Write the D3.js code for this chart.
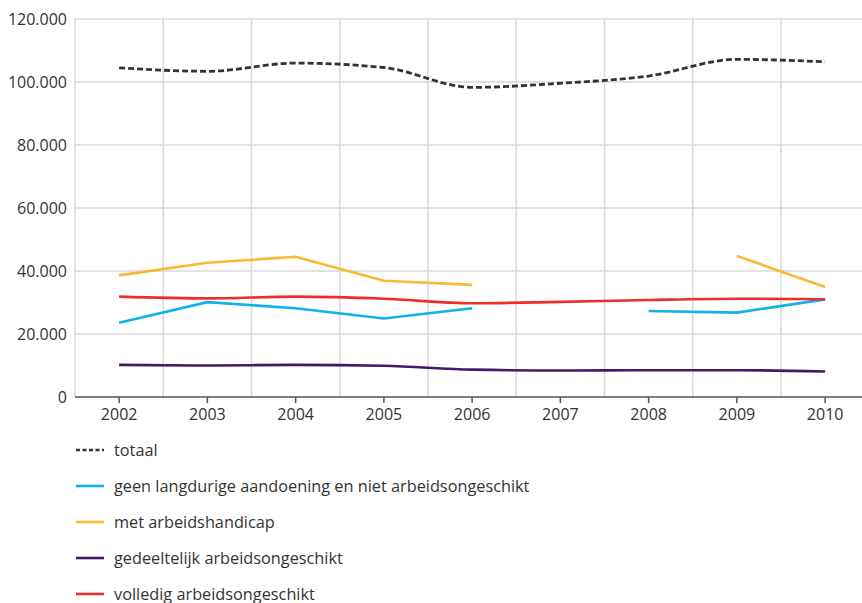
<!DOCTYPE html>
<html>
<head>
<meta charset="utf-8">
<script src="https://cdn.jsdelivr.net/npm/d3@7"></script>
<style>
    body { margin: 0; background: #ffffff; }
    svg text { font-family: "Open Sans", Lato, sans-serif; fill: #333333; }
</style>
</head>
<body>
<div id="chart"></div>
<script>
let width = 862;
let height = 603;

// data
let years = [2002, 2003, 2004, 2005, 2006, 2007, 2008, 2009, 2010];
let totaal = [104500, 103400, 106000, 104600, 98300, 99600, 101900, 107200, 106400];
let geenLangdurig = [23600, 30100, 28200, 24900, 28200, null, 27300, 26800, 31000];
let metHandicap = [38600, 42600, 44500, 36900, 35600, null, null, 44800, 34900];
let gedeeltelijk = [10200, 10000, 10200, 9900, 8700, 8400, 8500, 8500, 8100];
let volledig = [31850, 31300, 31850, 31200, 29750, 30200, 30800, 31200, 31050];
let yTicks = [0, 20000, 40000, 60000, 80000, 100000, 120000];

let series = [
    { name: "totaal", values: totaal, color: "#333333", dash: "6,3", curve: d3.curveMonotoneX },
    { name: "geen langdurige aandoening en niet arbeidsongeschikt", values: geenLangdurig, color: "#0fb0ec", curve: d3.curveLinear },
    { name: "met arbeidshandicap", values: metHandicap, color: "#fbb831", curve: d3.curveLinear },
    { name: "gedeeltelijk arbeidsongeschikt", values: gedeeltelijk, color: "#45186a", curve: d3.curveMonotoneX },
    { name: "volledig arbeidsongeschikt", values: volledig, color: "#ee2e28", curve: d3.curveMonotoneX }
];

let margin = { top: 19, left: 75, bottom: 397 };

let nl = d3.formatLocale({ decimal: ",", thousands: ".", grouping: [3], currency: ["€", ""] });
let fmt = nl.format(",");

let svg = d3.select("#chart")
    .append("svg")
    .attr("width", width)
    .attr("height", height);

let x = d3.scaleBand()
    .domain(years)
    .range([margin.left, margin.left + 88.25 * years.length]);

let y = d3.scaleLinear()
    .domain([0, 120000])
    .range([margin.bottom, margin.top]);

// horizontal grid
svg.append("g")
    .selectAll("line")
    .data(yTicks.slice(1))
    .join("line")
    .attr("x1", margin.left)
    .attr("x2", width)
    .attr("y1", d => y(d))
    .attr("y2", d => y(d))
    .attr("stroke", "#d9d9d9")
    .attr("stroke-width", 1.5);

// vertical grid between the years
svg.append("g")
    .selectAll("line")
    .data(years)
    .join("line")
    .attr("x1", d => x(d))
    .attr("x2", d => x(d))
    .attr("y1", margin.top)
    .attr("y2", margin.bottom)
    .attr("stroke", "#d9d9d9")
    .attr("stroke-width", 1.5);

// y labels
svg.append("g")
    .selectAll("text")
    .data(yTicks)
    .join("text")
    .attr("x", 67)
    .attr("y", d => y(d))
    .attr("dy", "0.35em")
    .attr("text-anchor", "end")
    .attr("font-size", 16)
    .text(d => fmt(d));

// x axis
let xAxis = svg.append("g")
    .attr("transform", `translate(0,${margin.bottom})`)
    .call(d3.axisBottom(x).tickSize(6).tickPadding(6).tickSizeOuter(0));
xAxis.select(".domain").attr("stroke", "#555555").attr("stroke-width", 1.5)
    .attr("d", `M${margin.left},0H${width}`);
xAxis.selectAll(".tick line").attr("stroke", "#555555").attr("stroke-width", 1.5);
xAxis.selectAll(".tick text")
    .attr("font-size", 16)
    .attr("font-family", "'Open Sans', Lato, sans-serif")
    .attr("fill", "#333333");

// lines
for (let s of series) {
    let line = d3.line()
        .defined(d => d != null)
        .x((d, i) => x(years[i]) + x.bandwidth() / 2)
        .y(d => y(d))
        .curve(s.curve);
    svg.append("path")
        .datum(s.values)
        .attr("d", line)
        .attr("fill", "none")
        .attr("stroke", s.color)
        .attr("stroke-width", s.dash ? 2.8 : 2.6)
        .attr("stroke-dasharray", s.dash || null);
}

// legend
let legend = svg.append("g")
    .selectAll("g")
    .data(series)
    .join("g")
    .attr("transform", (d, i) => `translate(76,${450 + i * 36})`);

legend.append("line")
    .attr("x1", 0)
    .attr("x2", 28)
    .attr("stroke", d => d.color)
    .attr("stroke-width", 2.6)
    .attr("stroke-dasharray", d => d.dash ? "4,2.5" : null);

legend.append("text")
    .attr("x", 38)
    .attr("dy", "0.35em")
    .attr("font-size", 16.3)
    .text(d => d.name);
</script>
</body>
</html>
